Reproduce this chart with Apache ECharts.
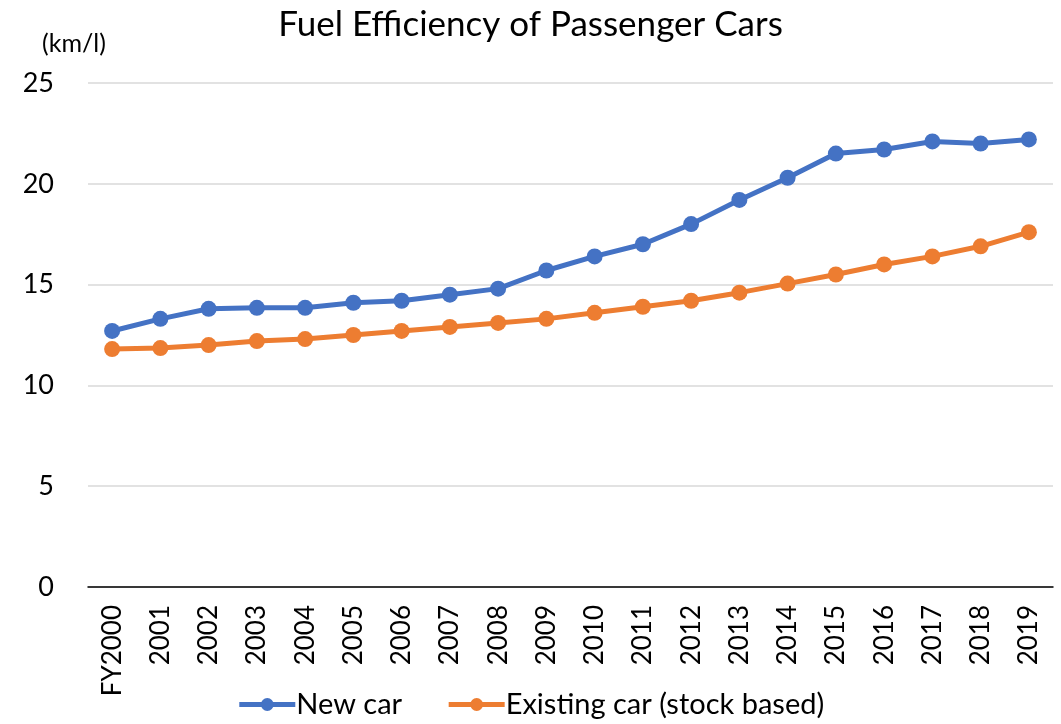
<!DOCTYPE html>
<html>
<head>
<meta charset="utf-8">
<script src="https://cdn.jsdelivr.net/npm/echarts@6/dist/echarts.min.js"></script>
<style>
  html, body { margin: 0; padding: 0; background: #fff; }
  #main { width: 1061px; height: 724px; }
</style>
</head>
<body>
<div id="main"></div>
<script>
// fiscal years
const years = ["FY2000", "2001", "2002", "2003", "2004", "2005", "2006", "2007", "2008", "2009",
  "2010", "2011", "2012", "2013", "2014", "2015", "2016", "2017", "2018", "2019"]
// km/l
const newCar = [12.7, 13.3, 13.8, 13.85, 13.85, 14.1, 14.2, 14.5, 14.8, 15.7,
  16.4, 17.0, 18.0, 19.2, 20.3, 21.5, 21.7, 22.1, 22.0, 22.2]
const existingCar = [11.8, 11.85, 12.0, 12.2, 12.3, 12.5, 12.7, 12.9, 13.1, 13.3,
  13.6, 13.9, 14.2, 14.6, 15.05, 15.5, 16.0, 16.4, 16.9, 17.6]
const colors = ["#4472C4", "#ED7D31"]
const font = "Lato, 'Open Sans', sans-serif"

const chart = echarts.init(document.getElementById("main"))
const option = {
  color: colors,
  textStyle: { fontFamily: font, color: "#000" },
  title: {
    text: "Fuel Efficiency of Passenger Cars",
    left: "center",
    top: 2,
    textStyle: { fontFamily: font, fontSize: 35, fontWeight: "normal", color: "#000" }
  },
  graphic: [
    {
      type: "text",
      left: 42,
      top: 31,
      style: { text: "(km/l)", fontSize: 25, fontFamily: font, fill: "#000" }
    }
  ],
  legend: {
    bottom: 0,
    left: "center",
    itemWidth: 56,
    itemHeight: 16,
    itemGap: 44,
    lineStyle: { width: 5 },
    textStyle: { fontFamily: font, fontSize: 29, color: "#000", padding: [0, 0, 0, -4] },
    data: ["New car", "Existing car (stock based)"]
  },
  grid: {
    left: 88,
    right: 8,
    top: 83,
    bottom: 137
  },
  xAxis: {
    type: "category",
    data: years,
    boundaryGap: true,
    axisTick: { show: false },
    axisLine: { lineStyle: { color: "#000", width: 1.5 } },
    axisLabel: {
      rotate: 90,
      interval: 0,
      fontSize: 26,
      color: "#000",
      margin: 18,
      fontFamily: font
    }
  },
  yAxis: {
    type: "value",
    min: 0,
    max: 25,
    interval: 5,
    axisLine: { show: false },
    axisTick: { show: false },
    axisLabel: { fontSize: 27, color: "#000", margin: 34, fontFamily: font },
    splitLine: { lineStyle: { color: "#d9d9d9", width: 1.5 } }
  },
  series: [
    {
      name: "New car",
      type: "line",
      data: newCar,
      symbol: "circle",
      symbolSize: 16,
      lineStyle: { width: 5 },
      itemStyle: { color: colors[0] }
    },
    {
      name: "Existing car (stock based)",
      type: "line",
      data: existingCar,
      symbol: "circle",
      symbolSize: 16,
      lineStyle: { width: 5 },
      itemStyle: { color: colors[1] }
    }
  ]
}
chart.setOption(option)
</script>
</body>
</html>
